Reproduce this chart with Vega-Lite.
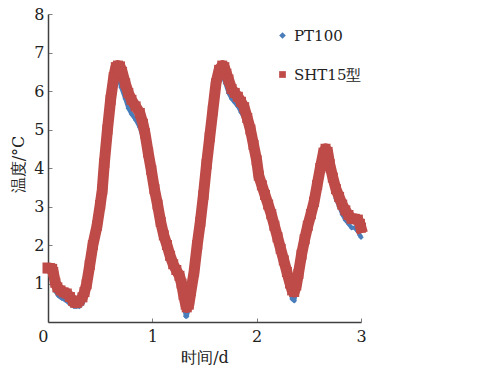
{
  "$schema": "https://vega.github.io/schema/vega-lite/v6.json",
  "autosize": "none",
  "width": 313,
  "height": 308,
  "padding": {"left": 48, "top": 14, "right": 123, "bottom": 47},
  "background": "#ffffff",
  "config": {"view": {"stroke": null}},
  "datasets": {
    "sht": [
      {"x":0.00,"y":1.40},{"x":0.02,"y":1.40},{"x":0.04,"y":1.38},{"x":0.05,"y":1.30},{"x":0.07,"y":1.02},{"x":0.09,"y":0.90},{"x":0.12,"y":0.82},{"x":0.15,"y":0.77},{"x":0.18,"y":0.74},{"x":0.21,"y":0.65},{"x":0.24,"y":0.55},{"x":0.26,"y":0.50},{"x":0.28,"y":0.50},{"x":0.30,"y":0.55},{"x":0.33,"y":0.64},{"x":0.35,"y":0.78},{"x":0.37,"y":0.98},{"x":0.40,"y":1.48},{"x":0.43,"y":2.00},{"x":0.47,"y":2.50},{"x":0.50,"y":3.04},{"x":0.52,"y":3.43},{"x":0.54,"y":4.13},{"x":0.57,"y":5.00},{"x":0.60,"y":5.77},{"x":0.63,"y":6.36},{"x":0.65,"y":6.62},{"x":0.67,"y":6.66},{"x":0.69,"y":6.64},{"x":0.71,"y":6.50},{"x":0.74,"y":6.20},{"x":0.77,"y":5.95},{"x":0.80,"y":5.77},{"x":0.84,"y":5.60},{"x":0.88,"y":5.43},{"x":0.91,"y":5.15},{"x":0.93,"y":4.90},{"x":0.96,"y":4.40},{"x":0.99,"y":3.95},{"x":1.02,"y":3.45},{"x":1.05,"y":3.05},{"x":1.08,"y":2.60},{"x":1.11,"y":2.25},{"x":1.14,"y":2.00},{"x":1.17,"y":1.72},{"x":1.20,"y":1.50},{"x":1.23,"y":1.35},{"x":1.26,"y":1.20},{"x":1.28,"y":1.00},{"x":1.30,"y":0.70},{"x":1.32,"y":0.45},{"x":1.33,"y":0.38},{"x":1.35,"y":0.45},{"x":1.37,"y":0.80},{"x":1.40,"y":1.30},{"x":1.43,"y":2.00},{"x":1.46,"y":2.60},{"x":1.49,"y":3.30},{"x":1.52,"y":4.10},{"x":1.55,"y":4.80},{"x":1.58,"y":5.50},{"x":1.61,"y":6.20},{"x":1.64,"y":6.55},{"x":1.67,"y":6.66},{"x":1.69,"y":6.62},{"x":1.71,"y":6.45},{"x":1.73,"y":6.30},{"x":1.76,"y":6.05},{"x":1.79,"y":5.95},{"x":1.82,"y":5.85},{"x":1.85,"y":5.72},{"x":1.88,"y":5.58},{"x":1.91,"y":5.30},{"x":1.94,"y":5.00},{"x":1.97,"y":4.60},{"x":2.00,"y":4.20},{"x":2.02,"y":3.80},{"x":2.05,"y":3.55},{"x":2.08,"y":3.30},{"x":2.11,"y":3.05},{"x":2.14,"y":2.80},{"x":2.17,"y":2.50},{"x":2.20,"y":2.20},{"x":2.23,"y":1.90},{"x":2.26,"y":1.60},{"x":2.29,"y":1.30},{"x":2.32,"y":1.00},{"x":2.34,"y":0.82},{"x":2.36,"y":0.78},{"x":2.38,"y":0.95},{"x":2.40,"y":1.25},{"x":2.43,"y":1.75},{"x":2.46,"y":2.15},{"x":2.49,"y":2.50},{"x":2.52,"y":2.80},{"x":2.55,"y":3.12},{"x":2.58,"y":3.56},{"x":2.61,"y":4.00},{"x":2.64,"y":4.40},{"x":2.66,"y":4.50},{"x":2.68,"y":4.42},{"x":2.70,"y":4.10},{"x":2.73,"y":3.75},{"x":2.76,"y":3.45},{"x":2.79,"y":3.25},{"x":2.82,"y":3.05},{"x":2.85,"y":2.90},{"x":2.88,"y":2.78},{"x":2.91,"y":2.68},{"x":2.94,"y":2.68},{"x":2.97,"y":2.66},{"x":2.99,"y":2.55},{"x":3.00,"y":2.45}
    ],
    "pt": [
      {"x":0.00,"y":1.35},{"x":0.03,"y":1.30},{"x":0.05,"y":1.05},{"x":0.07,"y":0.80},{"x":0.10,"y":0.68},{"x":0.13,"y":0.62},{"x":0.16,"y":0.58},{"x":0.19,"y":0.52},{"x":0.22,"y":0.45},{"x":0.25,"y":0.40},{"x":0.27,"y":0.40},{"x":0.30,"y":0.40},{"x":0.33,"y":0.48},{"x":0.35,"y":0.65},{"x":0.37,"y":0.90},{"x":0.40,"y":1.45},{"x":0.43,"y":2.00},{"x":0.47,"y":2.55},{"x":0.50,"y":3.05},{"x":0.52,"y":3.45},{"x":0.54,"y":4.10},{"x":0.57,"y":4.95},{"x":0.60,"y":5.70},{"x":0.63,"y":6.20},{"x":0.66,"y":6.35},{"x":0.68,"y":6.30},{"x":0.70,"y":6.10},{"x":0.74,"y":5.80},{"x":0.77,"y":5.55},{"x":0.80,"y":5.40},{"x":0.84,"y":5.25},{"x":0.88,"y":5.05},{"x":0.93,"y":4.60},{"x":0.96,"y":4.15},{"x":0.99,"y":3.70},{"x":1.02,"y":3.25},{"x":1.05,"y":2.85},{"x":1.08,"y":2.40},{"x":1.11,"y":2.05},{"x":1.14,"y":1.80},{"x":1.17,"y":1.55},{"x":1.20,"y":1.35},{"x":1.23,"y":1.20},{"x":1.26,"y":1.02},{"x":1.28,"y":0.80},{"x":1.30,"y":0.45},{"x":1.32,"y":0.15},{"x":1.33,"y":0.15},{"x":1.35,"y":0.35},{"x":1.37,"y":0.75},{"x":1.40,"y":1.30},{"x":1.43,"y":2.00},{"x":1.46,"y":2.60},{"x":1.49,"y":3.30},{"x":1.52,"y":4.10},{"x":1.55,"y":4.80},{"x":1.58,"y":5.50},{"x":1.61,"y":6.10},{"x":1.64,"y":6.35},{"x":1.67,"y":6.40},{"x":1.70,"y":6.20},{"x":1.73,"y":5.95},{"x":1.76,"y":5.80},{"x":1.79,"y":5.70},{"x":1.82,"y":5.60},{"x":1.85,"y":5.45},{"x":1.88,"y":5.30},{"x":1.91,"y":5.05},{"x":1.94,"y":4.75},{"x":1.97,"y":4.35},{"x":2.00,"y":3.95},{"x":2.02,"y":3.60},{"x":2.05,"y":3.35},{"x":2.08,"y":3.10},{"x":2.11,"y":2.85},{"x":2.14,"y":2.60},{"x":2.17,"y":2.30},{"x":2.20,"y":2.00},{"x":2.23,"y":1.70},{"x":2.26,"y":1.40},{"x":2.29,"y":1.10},{"x":2.32,"y":0.80},{"x":2.34,"y":0.60},{"x":2.36,"y":0.55},{"x":2.38,"y":0.80},{"x":2.40,"y":1.15},{"x":2.43,"y":1.70},{"x":2.46,"y":2.10},{"x":2.49,"y":2.50},{"x":2.52,"y":2.80},{"x":2.55,"y":3.10},{"x":2.58,"y":3.50},{"x":2.61,"y":3.90},{"x":2.64,"y":4.25},{"x":2.66,"y":4.30},{"x":2.68,"y":4.15},{"x":2.70,"y":3.85},{"x":2.73,"y":3.50},{"x":2.76,"y":3.20},{"x":2.79,"y":3.00},{"x":2.82,"y":2.80},{"x":2.85,"y":2.65},{"x":2.88,"y":2.55},{"x":2.91,"y":2.45},{"x":2.94,"y":2.45},{"x":2.97,"y":2.35},{"x":2.99,"y":2.25},{"x":3.00,"y":2.20}
    ]
  },
  "encoding": {
    "x": {
      "field": "x", "type": "quantitative",
      "scale": {"domain": [0, 3], "nice": false},
      "axis": {
        "values": [0, 1, 2, 3], "format": "d", "grid": false,
        "title": "时间/d",
        "titleFont": "DejaVu Serif", "titleFontSize": 16, "titleFontWeight": "normal", "titleColor": "#222222",
        "titleY": 35, "titleBaseline": "middle",
        "labelFont": "DejaVu Serif", "labelFontSize": 16, "labelColor": "#222222",
        "labelPadding": 10, "labelFlush": false,
        "labelAlign": {"expr": "datum.value == 0 ? 'right' : 'center'"},
        "domainColor": "#404040", "domainWidth": 1.5,
        "tickColor": "#808080", "tickSize": -4
      }
    },
    "y": {
      "field": "y", "type": "quantitative",
      "scale": {"domain": [0, 8], "nice": false},
      "axis": {
        "values": [1, 2, 3, 4, 5, 6, 7, 8], "grid": false,
        "title": "温度/°C",
        "titleFont": "DejaVu Serif", "titleFontSize": 16, "titleFontWeight": "normal", "titleColor": "#222222",
        "titleX": -30, "titleY": 150, "titleAngle": -90, "titleBaseline": "middle", "titleAlign": "center",
        "labelFont": "DejaVu Serif", "labelFontSize": 16, "labelColor": "#222222",
        "labelPadding": 8, "labelFlush": false,
        "domainColor": "#404040", "domainWidth": 1.5,
        "tickColor": "#808080", "tickSize": -4
      }
    }
  },
  "layer": [
    {
      "data": {"name": "pt"},
      "mark": {"type": "line", "color": "#4A7EBB", "strokeWidth": 4, "strokeJoin": "round"},
      "encoding": {}
    },
    {
      "data": {"name": "pt"},
      "transform": [{"calculate": "'PT100'", "as": "s"}],
      "mark": {"type": "point", "filled": true, "size": 30, "opacity": 1},
      "encoding": {
        "color": {"field": "s", "type": "nominal", "scale": {"domain": ["PT100", "SHT15型"], "range": ["#4A7EBB", "#BE4B48"]}, "title": null},
        "shape": {"field": "s", "type": "nominal", "scale": {"domain": ["PT100", "SHT15型"], "range": ["diamond", "square"]}, "title": null}
      }
    },
    {
      "data": {"name": "sht"},
      "mark": {"type": "line", "color": "#BE4B48", "strokeWidth": 11, "strokeJoin": "round", "strokeCap": "square"},
      "encoding": {}
    },
    {
      "data": {"name": "sht"},
      "transform": [{"calculate": "'SHT15型'", "as": "s"}],
      "mark": {"type": "point", "filled": true, "size": 100, "opacity": 1},
      "encoding": {
        "color": {"field": "s", "type": "nominal", "title": null,
          "legend": {"orient": "none", "legendX": 227, "legendY": 14, "symbolSize": 45, "labelFont": "DejaVu Serif", "labelFontSize": 15, "labelColor": "#222222", "rowPadding": 23, "labelOffset": 4, "symbolStrokeWidth": 0}},
        "shape": {"field": "s", "type": "nominal", "title": null}
      }
    }
  ]
}
